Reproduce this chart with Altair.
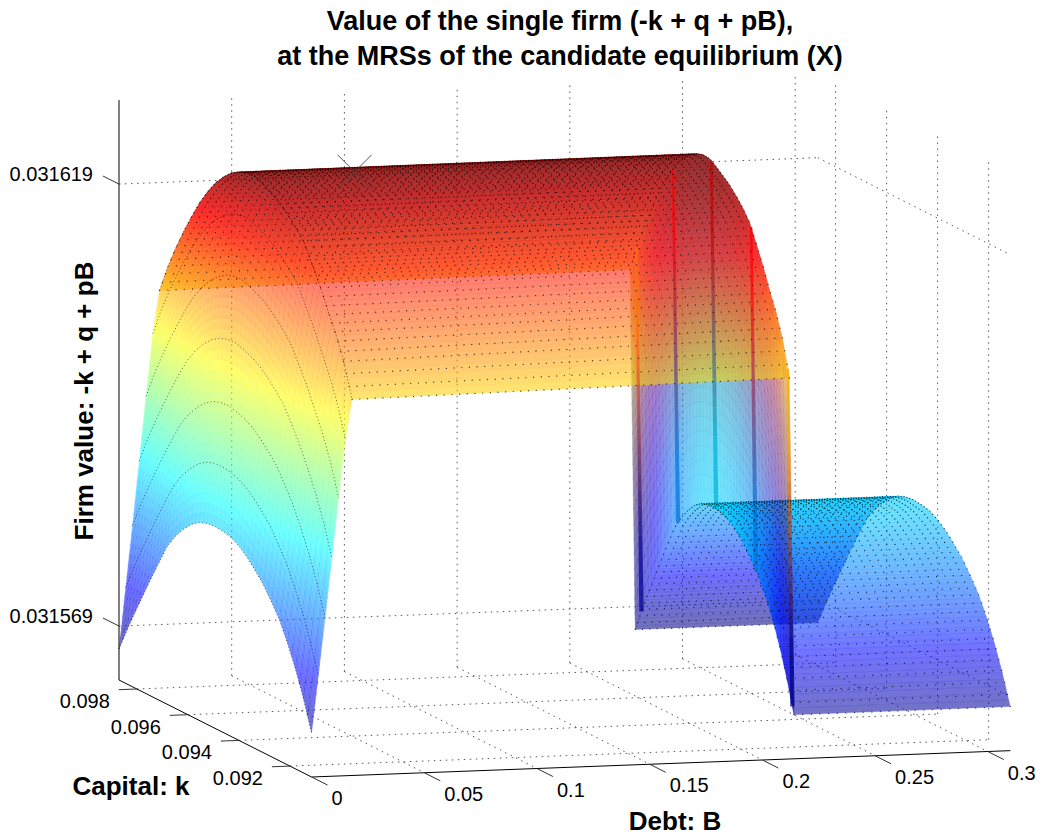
import altair as alt
import numpy as np
import pandas as pd

alt.data_transformers.disable_max_rows()

TITLE = ["Value of the single firm (-k + q + pB),", "at the MRSs of the candidate equilibrium (X)"]
B_TICKS = [0, 0.05, 0.1, 0.15, 0.2, 0.25, 0.3]
B_LABELS = ["0", "0.05", "0.1", "0.15", "0.2", "0.25", "0.3"]
K_TICKS = [0.098, 0.096, 0.094, 0.092]
K_LABELS = ["0.098", "0.096", "0.094", "0.092"]
Z_TICKS = [0.031569, 0.031619]
Z_LABELS = ["0.031569", "0.031619"]
B_MAX = 0.31
K_MAX = 0.0987
K_MIN = 0.09115
Z_FLOOR = 0.0315629
Z_TOP = 0.0316285

# heights above the floor, in 1/8.84e6 firm-value units, across k (K_MAX -> K_MIN)
H_LOW = [31, 54, 76, 97, 118, 138, 158, 172, 183, 192, 198, 201, 202, 201, 199, 194, 187, 178, 168, 155, 141, 122, 100, 74, 44]
H_UP_L = [388, 415, 438, 459, 478, 496, 511, 524, 534, 542, 547, 550, 550, 546, 541, 536, 528, 519, 509, 491, 473, 452, 432, 408, 376]
H_UP_R = [391, 418, 440, 460, 480, 498, 512, 525, 535, 543, 548, 551, 551, 547, 542, 537, 530, 522, 512, 495, 477, 457, 438, 415, 381]
RAMP_B = [0, 0.003, 0.006, 0.009, 0.012, 0.015, 0.018]
RAMP_RISE = [0, 0.172, 0.345, 0.525, 0.705, 0.88, 1.0]
DROP_UP = [0.2267, 0.212]    # debt where the upper sheet ends, at K_MAX and K_MIN
DROP_LOW = [0.229, 0.214]    # debt where the lower sheet starts
STREAKS_U = [0.04, 0.27, 0.51, 0.76, 0.99]
MARK_X = [0.0695, 0.41, 542]

ALPHA = 0.55
L, T = 8, 88
W, H = 1028, 744
U = np.linspace(0, 1, len(H_LOW))
low, upl, upr = map(np.array, (H_LOW, H_UP_L, H_UP_R))


def k2u(k):
    return (K_MAX - k) / (K_MAX - K_MIN)


def z2h(z):
    return (z - Z_FLOOR) * 8.84e6


H_MAX = z2h(Z_TOP)


def proj(b, u, h):
    return 119 + 2254 * b + 192.6 * u, 680 - 85 * b + 97 * u - h


def jet(h):
    v = np.clip((h - 30) / 522, 0, 1)
    return np.array([np.clip(1.5 - abs(4 * v - c), 0, 1) for c in (3, 2, 1)])


def hexc(c):
    return "#%02x%02x%02x" % tuple(int(round(255 * x)) for x in c)


features = []


def quad(pts, col):
    ring = [[round(float(x), 1), round(float(y), 1)] for x, y in pts]
    ring.append(ring[0])
    features.append({"type": "Feature", "geometry": {"type": "Polygon", "coordinates": [ring]},
                     "properties": {"c": col}})


def cell(v00, v10, v01, v11, sb, su, color=None):
    """v = (b, u, h); first index along debt, second along capital."""
    a = [np.array(v) for v in (v00, v10, v01, v11)]
    for i in range(sb):
        for j in range(su):
            s0, s1, t0, t1 = i / sb, (i + 1) / sb, j / su, (j + 1) / su
            def at(s, t):
                return (1 - s) * (1 - t) * a[0] + s * (1 - t) * a[1] + (1 - s) * t * a[2] + s * t * a[3]
            cs = [at(s0, t0), at(s1, t0), at(s1, t1), at(s0, t1)]
            mean = sum(cs) / 4
            c = jet(mean[2]) if color is None else color((s0 + s1) / 2, (t0 + t1) / 2)
            quad([proj(*p) for p in cs], hexc(c))


def bup(u):
    return DROP_UP[0] + (DROP_UP[1] - DROP_UP[0]) * u


def blow(u):
    return DROP_LOW[0] + (DROP_LOW[1] - DROP_LOW[0]) * u


ramp = [low + r * (upl - low) for r in RAMP_RISE]
for j in range(len(U) - 1):
    u0, u1 = U[j], U[j + 1]
    for i in range(len(RAMP_B) - 1):
        cell((RAMP_B[i], u0, ramp[i][j]), (RAMP_B[i + 1], u0, ramp[i + 1][j]),
             (RAMP_B[i], u1, ramp[i][j + 1]), (RAMP_B[i + 1], u1, ramp[i + 1][j + 1]), 6, 2)
    cell((RAMP_B[-1], u0, upl[j]), (bup(u0), u0, upr[j]), (RAMP_B[-1], u1, upl[j + 1]), (bup(u1), u1, upr[j + 1]), 1, 5)
    cell((blow(u0), u0, low[j]), (B_MAX, u0, low[j]), (blow(u1), u1, low[j + 1]), (B_MAX, u1, low[j + 1]), 1, 5)

    cl0, cl1, cu0, cu1 = jet(low[j]), jet(low[j + 1]), jet(upr[j]), jet(upr[j + 1])

    def wall_col(s, t, cl0=cl0, cl1=cl1, cu0=cu0, cu1=cu1):
        w = s ** 1.5
        return (1 - w) * ((1 - t) * cl0 + t * cl1) + w * ((1 - t) * cu0 + t * cu1)

    cell((blow(u0), u0, low[j]), (bup(u0), u0, upr[j]), (blow(u1), u1, low[j + 1]), (bup(u1), u1, upr[j + 1]), 24, 2, wall_col)

streak_feats = []
saved = features
features = streak_feats
for us in STREAKS_U:
    hl, hu = np.interp(us, U, low), np.interp(us, U, upr)
    bl, bu = blow(us), bup(us)
    cl_, cu_ = jet(hl), jet(hu)
    n = 24
    for i in range(n):
        s0, s1 = i / n, (i + 1) / n
        x0, y0 = proj(bl + (bu - bl) * s0, us, hl + (hu - hl) * s0)
        x1, y1 = proj(bl + (bu - bl) * s1, us, hl + (hu - hl) * s1)
        sm = (s0 + s1) / 2
        w = float(np.clip(sm * 1.6 - 0.3, 0, 1))
        half0, half1 = 2.2 - 1.0 * s0, 2.2 - 1.0 * s1
        mix = (1 - w) * cl_ + w * cu_
        quad([(x0 - half0, y0), (x0 + half0, y0), (x1 + half1, y1), (x1 - half1, y1)],
             hexc(np.clip(mix * 0.85 + np.array([0.35, 0.0, 0.0]) * w, 0, 1)))
features = saved

# ---- mesh dots: the surface mesh runs denser than the table of read-off heights
MESH_U = np.linspace(0, 1, 68)
dots = []
for u in MESH_U:
    hl_, hu_, hr_ = np.interp(u, U, low), np.interp(u, U, upl), np.interp(u, U, upr)
    for s in np.linspace(0, 1, 58):
        dots.append(proj(RAMP_B[-1] + (bup(u) - RAMP_B[-1]) * s, u, hu_ + (hr_ - hu_) * s))
    for s in np.linspace(0, 1, 26):
        dots.append(proj(blow(u) + (B_MAX - blow(u)) * s, u, hl_))
dots = pd.DataFrame(dots, columns=["x", "y"]).round(1)

arches = pd.DataFrame([
    dict(zip(("x", "y"), proj(b, u, r[j])), id=i, o=j)
    for i, (b, r) in enumerate(zip(RAMP_B, ramp)) for j, u in enumerate(U)])


# ---- frame
def seg_df(segs):
    rows = []
    for i, (p, q) in enumerate(segs):
        for o, v in enumerate((p, q)):
            x, y = proj(*v)
            rows.append({"x": x, "y": y, "id": i, "o": o})
    return pd.DataFrame(rows)


grid = []
for b in B_TICKS[1:]:
    grid.append(((b, 0, 0), (b, 0, H_MAX)))
    grid.append(((b, 0, 0), (b, 1, 0)))
for k in K_TICKS:
    u = k2u(k)
    grid.append(((0, u, 0), (B_MAX, u, 0)))
    grid.append(((B_MAX, u, 0), (B_MAX, u, H_MAX)))
for z in Z_TICKS:
    h = z2h(z)
    grid.append(((0, 0, h), (B_MAX, 0, h)))
    grid.append(((B_MAX, 0, h), (B_MAX, 1, h)))
grid = seg_df(grid)

axes = seg_df([((0, 0, 0), (0, 0, H_MAX)), ((0, 0, 0), (0, 1, 0)), ((0, 1, 0), (B_MAX, 1, 0))])
ticks = []
for b in B_TICKS:
    ticks.append(((b, 1, 0), (b, 1.083, 0)))
for k in K_TICKS:
    ticks.append(((0, k2u(k), 0), (-0.008, k2u(k), 0)))
for z in Z_TICKS:
    ticks.append(((0, 0, z2h(z)), (0, -0.083, z2h(z))))
ticks = seg_df(ticks)

labels = []
for b, t in zip(B_TICKS, B_LABELS):
    x, y = proj(b, 1, 0)
    labels.append({"x": x + 20, "y": y + 22, "t": t, "a": "left"})
for k, t in zip(K_TICKS, K_LABELS):
    x, y = proj(0, k2u(k), 0)
    labels.append({"x": x - 27, "y": y + 13, "t": t, "a": "right"})
for z, t in zip(Z_TICKS, Z_LABELS):
    x, y = proj(0, 0, z2h(z))
    labels.append({"x": x - 26, "y": y - 9, "t": t, "a": "right"})
labels = pd.DataFrame(labels)

xs = alt.X("x:Q", scale=alt.Scale(domain=[L, L + W], nice=False, zero=False), axis=None)
ys = alt.Y("y:Q", scale=alt.Scale(domain=[T + H, T], nice=False, zero=False), axis=None)
PROJ = dict(type="identity", scale=1, translate=[-L, -T], reflectY=False)

grid_l = alt.Chart(grid).mark_line(color="#222222", strokeWidth=1, strokeDash=[1.5, 4.5], opacity=0.75).encode(
    x=xs, y=ys, detail="id:N", order="o:Q")
surf = alt.Chart(alt.Data(values=features)).mark_geoshape(strokeWidth=0.3, opacity=ALPHA).encode(
    color=alt.Color("properties.c:N", scale=None), stroke=alt.Stroke("properties.c:N", scale=None)).project(**PROJ)
streaks = alt.Chart(alt.Data(values=streak_feats)).mark_geoshape(strokeWidth=0, opacity=0.72).encode(
    color=alt.Color("properties.c:N", scale=None)).project(**PROJ)
dots_l = alt.Chart(dots).mark_circle(size=1.9, color="#000000", opacity=0.7).encode(x=xs, y=ys)
arch_l = alt.Chart(arches).mark_line(color="#000000", strokeWidth=0.8, strokeDash=[1, 2.5], opacity=0.7).encode(
    x=xs, y=ys, detail="id:N", order="o:Q")
axes_l = alt.Chart(axes).mark_line(color="#000000", strokeWidth=1).encode(x=xs, y=ys, detail="id:N", order="o:Q")
ticks_l = alt.Chart(ticks).mark_line(color="#333333", strokeWidth=1).encode(x=xs, y=ys, detail="id:N", order="o:Q")
mx, my = proj(*MARK_X)
marker = alt.Chart(pd.DataFrame({"x": [mx], "y": [my]})).mark_point(
    shape="M-1,-1L1,1M1,-1L-1,1", size=1156, color="#444444", strokeWidth=1, opacity=0.9).encode(x=xs, y=ys)


def txt(df, **kw):
    return alt.Chart(df).mark_text(font="Liberation Sans", color="#000000", baseline="middle", **kw).encode(
        x=xs, y=ys, text="t:N")


tick_l = [txt(labels[labels.a == a], fontSize=20, align=a) for a in ("left", "right")]
cap_k = txt(pd.DataFrame({"x": [131], "y": [787], "t": ["Capital: k"]}), fontSize=26, fontWeight="bold", align="center")
debt = txt(pd.DataFrame({"x": [675], "y": [822], "t": ["Debt: B"]}), fontSize=26, fontWeight="bold", align="center")
firm = txt(pd.DataFrame({"x": [85], "y": [401], "t": ["Firm value: -k + q + pB"]}), fontSize=26, fontWeight="bold",
           align="center", angle=270)

chart = alt.layer(grid_l, surf, streaks, dots_l, arch_l, axes_l, ticks_l, marker, *tick_l, cap_k, debt, firm).properties(
    width=W, height=H, background="#ffffff",
    padding={"left": 0, "top": T - L, "right": 0, "bottom": 4},
    autosize=alt.AutoSizeParams(type="none"),
    title=alt.TitleParams(text=TITLE, font="Liberation Sans", fontSize=27, fontWeight="bold", color="#000000",
                          anchor="middle", dx=38, offset=2, lineHeight=35),
).configure_view(strokeWidth=0)

chart.save("out.html", embed_options={"renderer": "svg", "actions": False})
